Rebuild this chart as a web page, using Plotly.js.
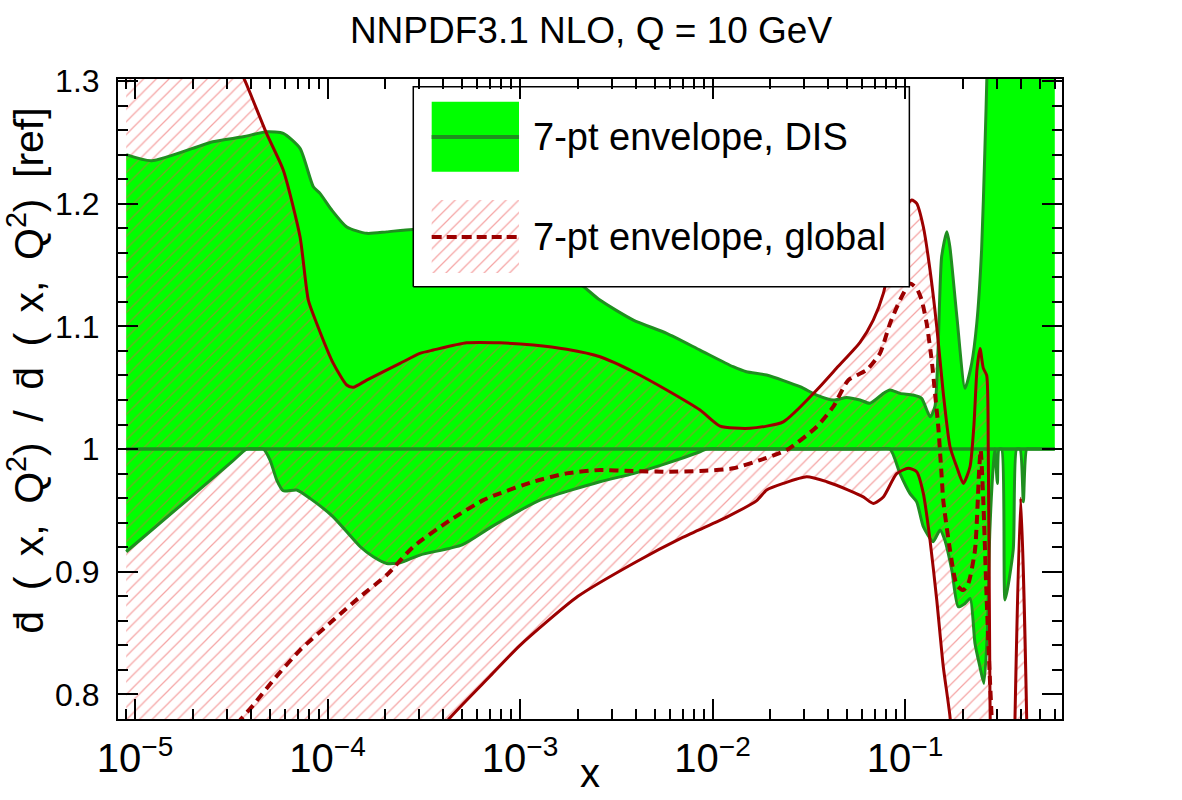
<!DOCTYPE html>
<html>
<head>
<meta charset="utf-8">
<script src="https://cdn.plot.ly/plotly-3.0.1.min.js"></script>
<style>
  html, body { margin: 0; padding: 0; background: #ffffff; }
  #chart { width: 1182px; height: 800px; }
</style>
</head>
<body>
<div id="chart"></div>
<script>
// ---- DIS-only fit: 7-point scale-variation envelope ----
const disXUp = [9e-6, 1.22e-5, 2.54e-5, 3.65e-5, 4.83e-5, 5.89e-5, 7.2e-5, 8.44e-5, 9.14e-5, 1.05e-4,
  1.26e-4, 1.6e-4, 2.03e-4, 2.79e-4, 5e-4, 1e-3, 2e-3, 2.6e-3, 3.88e-3, 5.78e-3,
  8.61e-3, 1.28e-2, 1.5e-2, 1.91e-2, 2.85e-2, 3.48e-2, 4.24e-2, 4.98e-2, 5.84e-2, 6.58e-2,
  7.72e-2, 8.36e-2, 9.42e-2, 0.110, 0.122, 0.135, 0.143, 0.155, 0.165, 0.171,
  0.186, 0.205, 0.222, 0.236, 0.250, 0.260, 0.267, 0.276, 0.30, 0.60];
const disUp = [1.240, 1.235, 1.2505, 1.2545, 1.2586, 1.2573, 1.245, 1.2138, 1.2084, 1.195,
  1.181, 1.1758, 1.177, 1.179, 1.174, 1.162, 1.136, 1.1214, 1.1051, 1.0943,
  1.0807, 1.0671, 1.063, 1.0603, 1.0508, 1.044, 1.0399, 1.0421, 1.040, 1.0373,
  1.0454, 1.0481, 1.0454, 1.044, 1.0413, 1.0263, 1.0345, 1.1567, 1.1771, 1.1649,
  1.1078, 1.0495, 1.0698, 1.1024, 1.1622, 1.2437, 1.31, 1.45, 1.6, 1.6];

const disXLo = [9e-6, 2e-5, 3.2e-5, 3.8e-5, 4.2e-5, 4.64e-5, 5.03e-5, 5.45e-5, 5.89e-5, 6.92e-5,
  8.11e-5, 1.07e-4, 1.48e-4, 1.73e-4, 2.03e-4, 2.38e-4, 3.02e-4, 5e-4, 7e-4, 1e-3,
  1.27e-3, 2.6e-3, 3.88e-3, 5.78e-3, 8.61e-3, 9.33e-3, 1.2e-2, 2e-2, 3e-2, 5e-2,
  7e-2, 8.36e-2, 9.42e-2, 0.106, 0.115, 0.1245, 0.140, 0.152, 0.161, 0.175,
  0.189, 0.205, 0.218, 0.231, 0.245, 0.257, 0.268, 0.276, 0.288, 0.293,
  0.302, 0.308, 0.318, 0.331, 0.365, 0.380, 0.396, 0.412, 0.429, 0.45,
  0.60];
const disLo = [0.9163, 0.9625, 0.9899, 1.0, 1.0, 1.0, 0.991, 0.9747, 0.966, 0.9666,
  0.9598, 0.9448, 0.9204, 0.9122, 0.9068, 0.9073, 0.9136, 0.922, 0.936, 0.950,
  0.9584, 0.9734, 0.980, 0.9883, 0.9978, 1.0, 1.0, 1.0, 1.0, 1.0,
  1.0, 1.0, 0.980, 0.9639, 0.957, 0.9367, 0.9245, 0.934, 0.9258, 0.9014,
  0.8715, 0.8742, 0.8783, 0.8416, 0.8226, 0.809, 0.8525, 0.934, 0.988, 1.0,
  0.972, 1.0, 1.0, 0.877, 0.918, 1.0, 1.0, 0.957, 1.0, 1.0,
  1.0];

// ---- global fit: 7-point envelope edges and central value ----
const globXUp = [9e-6, 1.5e-5, 2.5e-5, 3.73e-5, 4.83e-5, 5.89e-5, 7.2e-5, 7.95e-5, 8.79e-5, 1.072e-4,
  1.258e-4, 1.361e-4, 1.598e-4, 2.38e-4, 3.02e-4, 3.545e-4, 5.29e-4, 7.87e-4, 1.172e-3, 1.748e-3,
  2.604e-3, 3.879e-3, 5.782e-3, 8.613e-3, 1.094e-2, 1.566e-2, 2.332e-2, 3.48e-2, 4.5e-2, 5.84e-2,
  6.84e-2, 7.72e-2, 8.70e-2, 9.80e-2, 0.1083, 0.115, 0.1245, 0.1349, 0.1462, 0.1581,
  0.1713, 0.1856, 0.2009, 0.2177, 0.2282, 0.2366, 0.2453, 0.2551, 0.2657, 0.2708,
  0.2764, 0.282, 0.30, 0.36, 0.3727, 0.399, 0.4287, 0.44, 0.60];
const globUp = [1.55, 1.45, 1.36, 1.30, 1.257, 1.2274, 1.173, 1.1214, 1.1024, 1.0698,
  1.0522, 1.0503, 1.0562, 1.0698, 1.078, 1.0807, 1.0866, 1.0866, 1.0848, 1.0813,
  1.0752, 1.063, 1.0481, 1.0318, 1.0187, 1.0169, 1.0222, 1.0481, 1.0674, 1.087,
  1.1051, 1.1269, 1.1649, 1.1948, 1.2029, 1.2002, 1.1812, 1.1459, 1.0997, 1.0454,
  1.0019, 0.9856, 0.972, 0.9856, 1.02, 1.065, 1.082, 1.066, 1.06, 1.0,
  0.795, 0.70, 0.6, 0.6, 0.78, 0.96, 0.78, 0.6, 0.6];

const globXLo = [9e-6, 3e-5, 1e-4, 2e-4, 3e-4, 4.33e-4, 7e-4, 1e-3, 2e-3, 4e-3,
  7e-3, 1.2e-2, 1.697e-2, 1.912e-2, 2.332e-2, 3.087e-2, 3.92e-2, 5.08e-2, 6.07e-2, 6.84e-2,
  7.72e-2, 9.05e-2, 0.104, 0.115, 0.1245, 0.1349, 0.1462, 0.1581, 0.1713, 0.20,
  0.30, 0.60];
const globLo = [0.40, 0.50, 0.62, 0.71, 0.75, 0.781, 0.815, 0.840, 0.880, 0.908,
  0.928, 0.945, 0.958, 0.9666, 0.972, 0.9774, 0.9734, 0.9666, 0.961, 0.9557,
  0.961, 0.980, 0.9843, 0.9815, 0.9639, 0.9258, 0.877, 0.8226, 0.7818, 0.65,
  0.5, 0.5];

const globXMid = [9e-6, 2e-5, 3e-5, 3.58e-5, 4.12e-5, 5.23e-5, 7.2e-5, 1.072e-4, 1.475e-4, 2.03e-4,
  2.79e-4, 4.33e-4, 6.45e-4, 7.87e-4, 1.172e-3, 1.748e-3, 2.604e-3, 3.879e-3, 5.782e-3, 8.613e-3,
  1.283e-2, 1.765e-2, 2.43e-2, 3.48e-2, 4.24e-2, 5.08e-2, 6.32e-2, 7.41e-2, 8.36e-2, 9.42e-2,
  0.1062, 0.115, 0.1221, 0.1296, 0.1376, 0.1432, 0.1489, 0.1551, 0.1581, 0.1713,
  0.1856, 0.2009, 0.2133, 0.231, 0.2432, 0.2473, 0.2551, 0.2657, 0.2742, 0.282,
  0.30, 0.60];
const globMid = [0.55, 0.68, 0.765, 0.7805, 0.7914, 0.8117, 0.8362, 0.8606, 0.8796, 0.8973,
  0.9204, 0.942, 0.9584, 0.9639, 0.9734, 0.9802, 0.9829, 0.9821, 0.9815, 0.9821,
  0.9843, 0.991, 0.9992, 1.0182, 1.0345, 1.0562, 1.0644, 1.078, 1.1024, 1.1214,
  1.135, 1.131, 1.1214, 1.1024, 1.0725, 1.0454, 1.0182, 0.9774, 0.958, 0.9177,
  0.8892, 0.8851, 0.8905, 0.9177, 0.9856, 0.9992, 0.958, 0.877, 0.8226, 0.78,
  0.6, 0.6];

// ---- reference ratio (= 1) ----
const refX = [9e-6, 0.6];
const refY = [1, 1];

// ---- text ----
const SP = '\u2002';
const titleText = 'NNPDF3.1 NLO, Q = 10 GeV';
const yTitleText = ['d\u0304', '(', 'x,', 'Q<sup>2</sup>)', '/', 'd\u0304', '(', 'x,', 'Q<sup>2</sup>)', '[ref]'].join(SP);
const xTitleText = 'x';
const legendLabels = ['7-pt envelope, DIS', '7-pt envelope, global'];
const yTickVals = [0.8, 0.9, 1.0, 1.1, 1.2, 1.3];

// ---- styles ----
const FONT = 'Liberation Sans, Arial, Helvetica, sans-serif';
const GREEN_FILL = '#00ff00';
const GREEN_LINE = '#1f8f1f';
const RED_LINE = '#9c0000';
const SMOOTH = 0.6;
const hatch = { shape: '/', size: 9, solidity: 0.14, fgcolor: 'rgb(236,78,78)', bgcolor: 'rgba(0,0,0,0)', fillmode: 'overlay' };
const NOLINE = { width: 0, shape: 'spline', smoothing: SMOOTH };
const smooth = (color, width, dash) => ({ color: color, width: width, dash: dash || 'solid', shape: 'spline', smoothing: SMOOTH });

const traces = [
  // DIS band (filled)
  { x: disXUp, y: disUp, mode: 'lines', line: NOLINE, hoverinfo: 'skip' },
  { x: disXLo, y: disLo, mode: 'lines', line: NOLINE, fill: 'tonexty', fillcolor: GREEN_FILL, hoverinfo: 'skip' },
  // global band (hatched)
  { x: globXUp, y: globUp, mode: 'lines', line: NOLINE, hoverinfo: 'skip' },
  { x: globXLo, y: globLo, mode: 'lines', line: NOLINE, fill: 'tonexty', fillcolor: 'rgba(0,0,0,0)', fillpattern: hatch, hoverinfo: 'skip' },
  // DIS band edges and reference line
  { x: disXUp, y: disUp, mode: 'lines', line: smooth(GREEN_LINE, 3) },
  { x: disXLo, y: disLo, mode: 'lines', line: smooth(GREEN_LINE, 3) },
  { x: refX, y: refY, mode: 'lines', line: { color: GREEN_LINE, width: 3.5 } },
  // global band edges and central value
  { x: globXUp, y: globUp, mode: 'lines', line: smooth(RED_LINE, 3) },
  { x: globXLo, y: globLo, mode: 'lines', line: smooth(RED_LINE, 3) },
  { x: globXMid, y: globMid, mode: 'lines', line: smooth(RED_LINE, 4, '9px,6px') }
];

// ---- legend box drawn on an overlay subplot (unit coordinates of the plot area) ----
const box = { x0: 0.3128, x1: 0.8383, y0: 0.6755, y1: 0.988 };
const sw = { x0: 0.3323, x1: 0.4248 };
const row1 = { y0: 0.8552, y1: 0.9645, yl: 0.9094 };
const row2 = { y0: 0.6969, y1: 0.8109, yl: 0.7531 };
const rect = (x0, x1, y0, y1) => ({ x: [x0, x1, x1, x0, x0], y: [y0, y0, y1, y1, y0] });
const ov = { xaxis: 'x2', yaxis: 'y2', hoverinfo: 'skip' };

traces.push(Object.assign({}, ov, rect(box.x0, box.x1, box.y0, box.y1),
  { mode: 'lines', fill: 'toself', fillcolor: '#ffffff', line: { color: '#000000', width: 1.5 } }));
traces.push(Object.assign({}, ov, rect(sw.x0, sw.x1, row1.y0, row1.y1),
  { mode: 'lines', fill: 'toself', fillcolor: GREEN_FILL, line: { width: 0 } }));
traces.push(Object.assign({}, ov, { x: [sw.x0, sw.x1], y: [row1.yl, row1.yl], mode: 'lines', line: { color: GREEN_LINE, width: 4 } }));
traces.push(Object.assign({}, ov, rect(sw.x0, sw.x1, row2.y0, row2.y1),
  { mode: 'lines', fill: 'toself', fillcolor: 'rgba(0,0,0,0)', fillpattern: hatch, line: { width: 0 } }));
traces.push(Object.assign({}, ov, { x: [sw.x0, sw.x1], y: [row2.yl, row2.yl], mode: 'lines', line: { color: RED_LINE, width: 4, dash: '10px,5px' } }));

const axisCommon = {
  showgrid: false, zeroline: false, showline: true, linecolor: '#000000', linewidth: 2,
  mirror: 'ticks', ticks: 'inside', tickcolor: '#000000', tickwidth: 2, automargin: false,
  tickfont: { family: FONT, size: 32, color: '#000000' }
};

const layout = {
  width: 1182, height: 800,
  margin: { l: 118, r: 120, t: 79, b: 81 },
  paper_bgcolor: '#ffffff', plot_bgcolor: '#ffffff',
  showlegend: false,
  hovermode: false,
  title: {
    text: titleText, x: 0.5, xanchor: 'center', xref: 'container',
    y: 0.9625, yanchor: 'middle', yref: 'container',
    font: { family: FONT, size: 37, color: '#000000' }
  },
  xaxis: Object.assign({}, axisCommon, {
    type: 'log', range: [-5.0883, -0.1844], dtick: 1, exponentformat: 'power',
    ticklen: 20, ticklabelstandoff: 5,
    minor: { ticks: 'inside', ticklen: 10, tickwidth: 2, tickcolor: '#000000', dtick: 'D1', showgrid: false }
  }),
  yaxis: Object.assign({}, axisCommon, {
    range: [0.78, 1.3016], tickvals: yTickVals, ticklen: 20, ticklabelstandoff: 10,
    minor: { ticks: 'inside', ticklen: 10, tickwidth: 2, tickcolor: '#000000', dtick: 0.02, tick0: 0.8, showgrid: false }
  }),
  xaxis2: { overlaying: 'x', anchor: 'y2', range: [0, 1], visible: false, fixedrange: true },
  yaxis2: { overlaying: 'y', anchor: 'x2', range: [0, 1], visible: false, fixedrange: true },
  annotations: [
    { text: yTitleText, xref: 'paper', yref: 'paper', x: -0.097, y: 0.545, xanchor: 'center', yanchor: 'middle',
      textangle: -90, showarrow: false, font: { family: FONT, size: 41, color: '#000000' } },
    { text: xTitleText, xref: 'paper', yref: 'paper', x: 0.5, y: -0.085, xanchor: 'center', yanchor: 'middle',
      showarrow: false, font: { family: FONT, size: 40, color: '#000000' } },
    { text: legendLabels[0], xref: 'paper', yref: 'paper', x: 0.4375, y: row1.yl, xanchor: 'left', yanchor: 'middle',
      showarrow: false, font: { family: FONT, size: 38, color: '#000000' } },
    { text: legendLabels[1], xref: 'paper', yref: 'paper', x: 0.4375, y: row2.yl, xanchor: 'left', yanchor: 'middle',
      showarrow: false, font: { family: FONT, size: 38, color: '#000000' } }
  ]
};

Plotly.newPlot('chart', traces, layout, { staticPlot: true, displayModeBar: false });
</script>
</body>
</html>
